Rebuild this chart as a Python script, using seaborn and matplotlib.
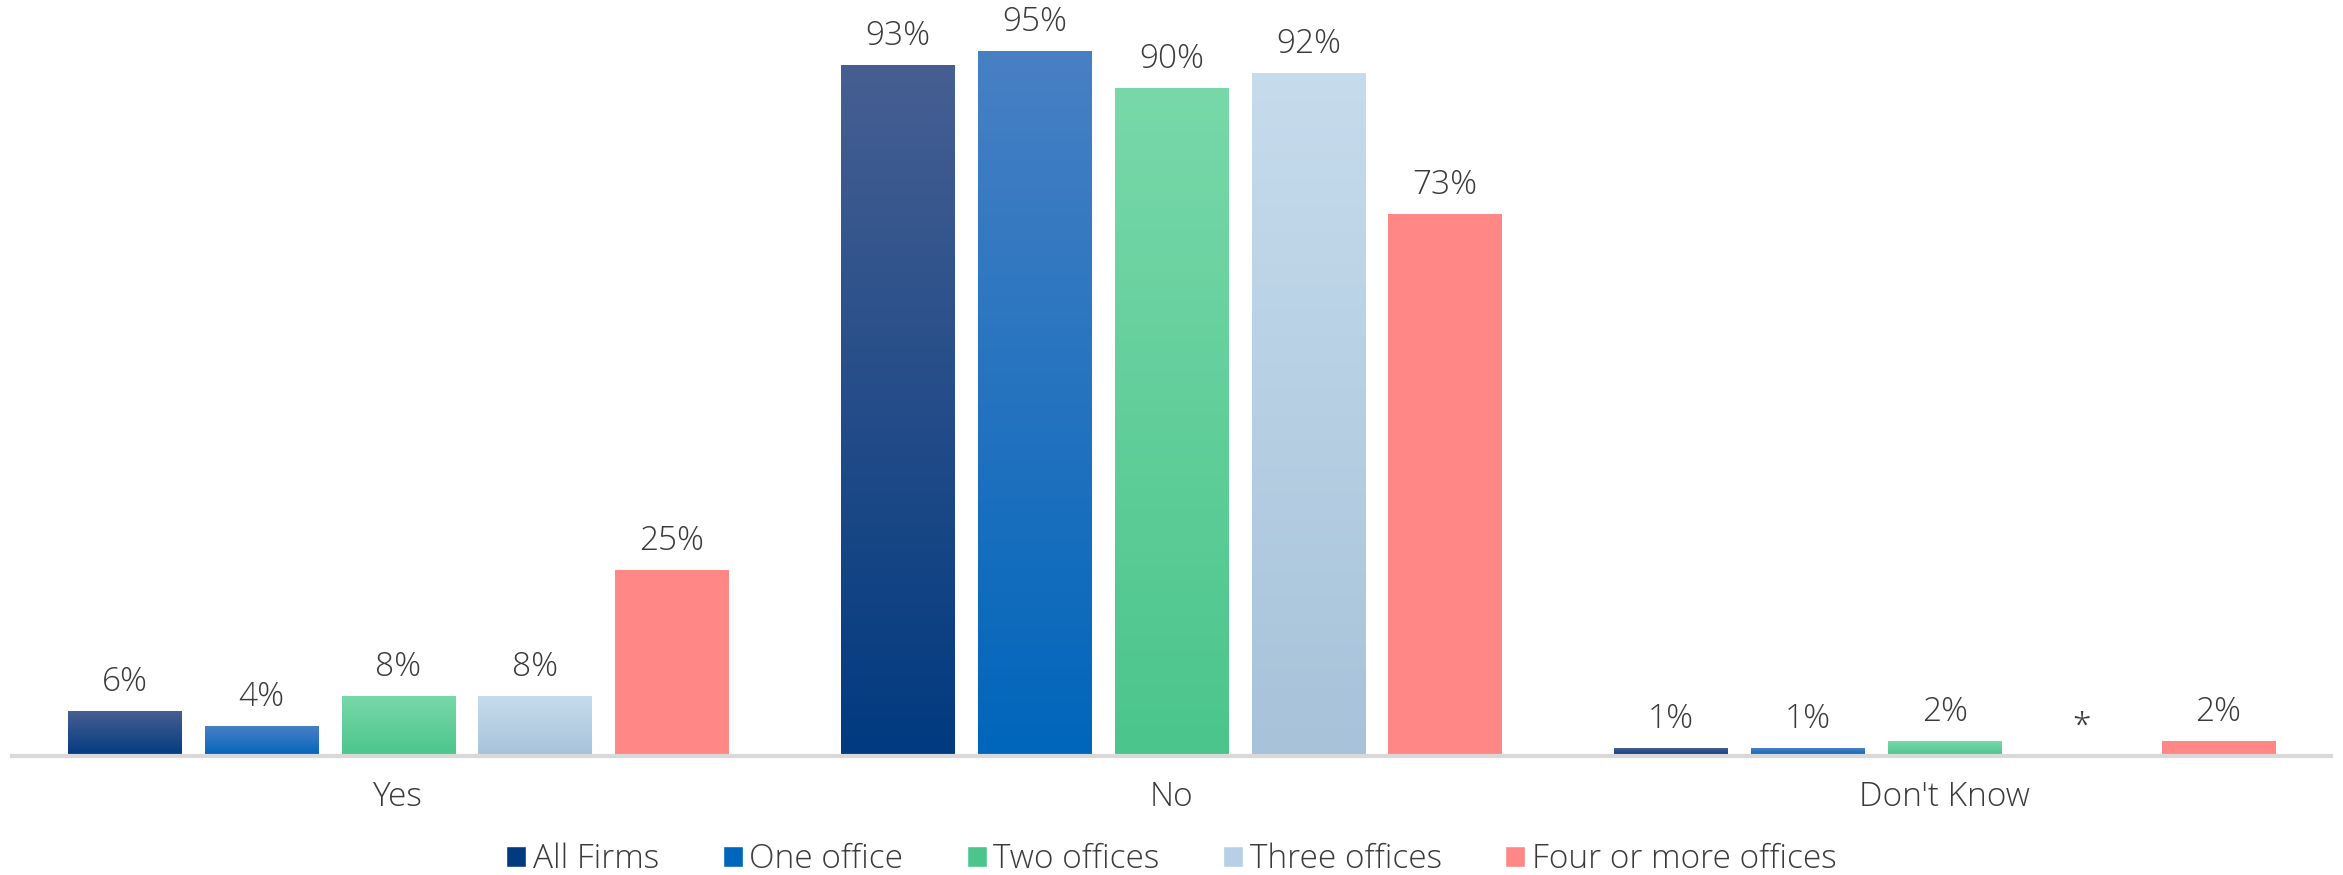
import matplotlib
matplotlib.use('Agg')

import numpy as np
import pandas as pd
import matplotlib.pyplot as plt
import seaborn as sns
from matplotlib.colors import LinearSegmentedColormap

# Datos
categorias = ["Yes", "No", "Don't Know"]
series = ["All Firms", "One office", "Two offices", "Three offices", "Four or more offices"]
all_firms = [6, 93, 1]
one_office = [4, 95, 1]
two_offices = [8, 90, 2]
three_offices = [8, 92, 0]
four_more = [25, 73, 2]
etiquetas_three = ["8%", "92%", "*"]

# colores (arriba, abajo) para el degradado de cada serie
degradados = {
    "All Firms": ("#465f92", "#013a80"),
    "One office": ("#4880c4", "#0066bb"),
    "Two offices": ("#78d8a9", "#4bc58c"),
    "Three offices": ("#c6dced", "#a7c2d9"),
    "Four or more offices": ("#ff8886", "#ff8886"),
}
colores = {k: v[1] if k != "Three offices" else "#b8d0e6" for k, v in degradados.items()}

valores = [all_firms, one_office, two_offices, three_offices, four_more]
filas = []
for s, vals in zip(series, valores):
    for c, v in zip(categorias, vals):
        filas.append({"Categoria": c, "Serie": s, "Valor": v})
df = pd.DataFrame(filas)

sns.set_theme(style="white")
plt.rcParams['font.family'] = ['Open Sans', 'DejaVu Sans']
plt.rcParams['font.weight'] = 'light'
texto = "#3a3a3a"
tam = 24

fig = plt.figure(figsize=(23.43, 8.75), dpi=100)
ax = fig.add_axes([0.005, 0.136, 0.99, 0.848])

sns.barplot(data=df, x="Categoria", y="Valor", hue="Serie", order=categorias,
            hue_order=series, palette=colores, width=0.885, gap=0.17,
            saturation=1, ax=ax, legend=True)

# degradado vertical sobre cada barra
for s, cont in zip(series, ax.containers):
    top, bottom = degradados[s]
    cmap = LinearSegmentedColormap.from_list(s, [bottom, top])
    grad = np.linspace(0, 1, 256).reshape(-1, 1)
    for p in cont.patches:
        x, w, h = p.get_x(), p.get_width(), p.get_height()
        if h <= 0:
            continue
        ax.imshow(grad, extent=[x, x + w, 0, h], origin='lower', aspect='auto',
                  cmap=cmap, zorder=3)

ax.set_xlim(-0.5, 2.5)
ax.set_ylim(0, 100)

for s, cont in zip(series, ax.containers):
    if s == "Three offices":
        labs = etiquetas_three
    else:
        labs = [f"{int(v)}%" for v in cont.datavalues]
    ax.bar_label(cont, labels=labs, padding=9, fontsize=tam, color=texto, zorder=5)

ax.set_xlabel("")
ax.set_ylabel("")
ax.set_yticks([])
ax.tick_params(axis='x', labelsize=tam, colors=texto, length=0, pad=18)
for lado in ["top", "right", "left"]:
    ax.spines[lado].set_visible(False)
ax.spines["bottom"].set_color("#d9d9d9")
ax.spines["bottom"].set_linewidth(3)
ax.spines["bottom"].set_zorder(4)

handles, labels = ax.get_legend_handles_labels()
ax.get_legend().remove()
fig.legend(handles, labels, loc="center", bbox_to_anchor=(0.5, 0.018), ncol=5,
           frameon=False, fontsize=tam, handlelength=0.6, handleheight=0.6,
           handletextpad=0.2, columnspacing=1.9, labelcolor=texto)

plt.savefig("out.png", dpi=100)
plt.close()
